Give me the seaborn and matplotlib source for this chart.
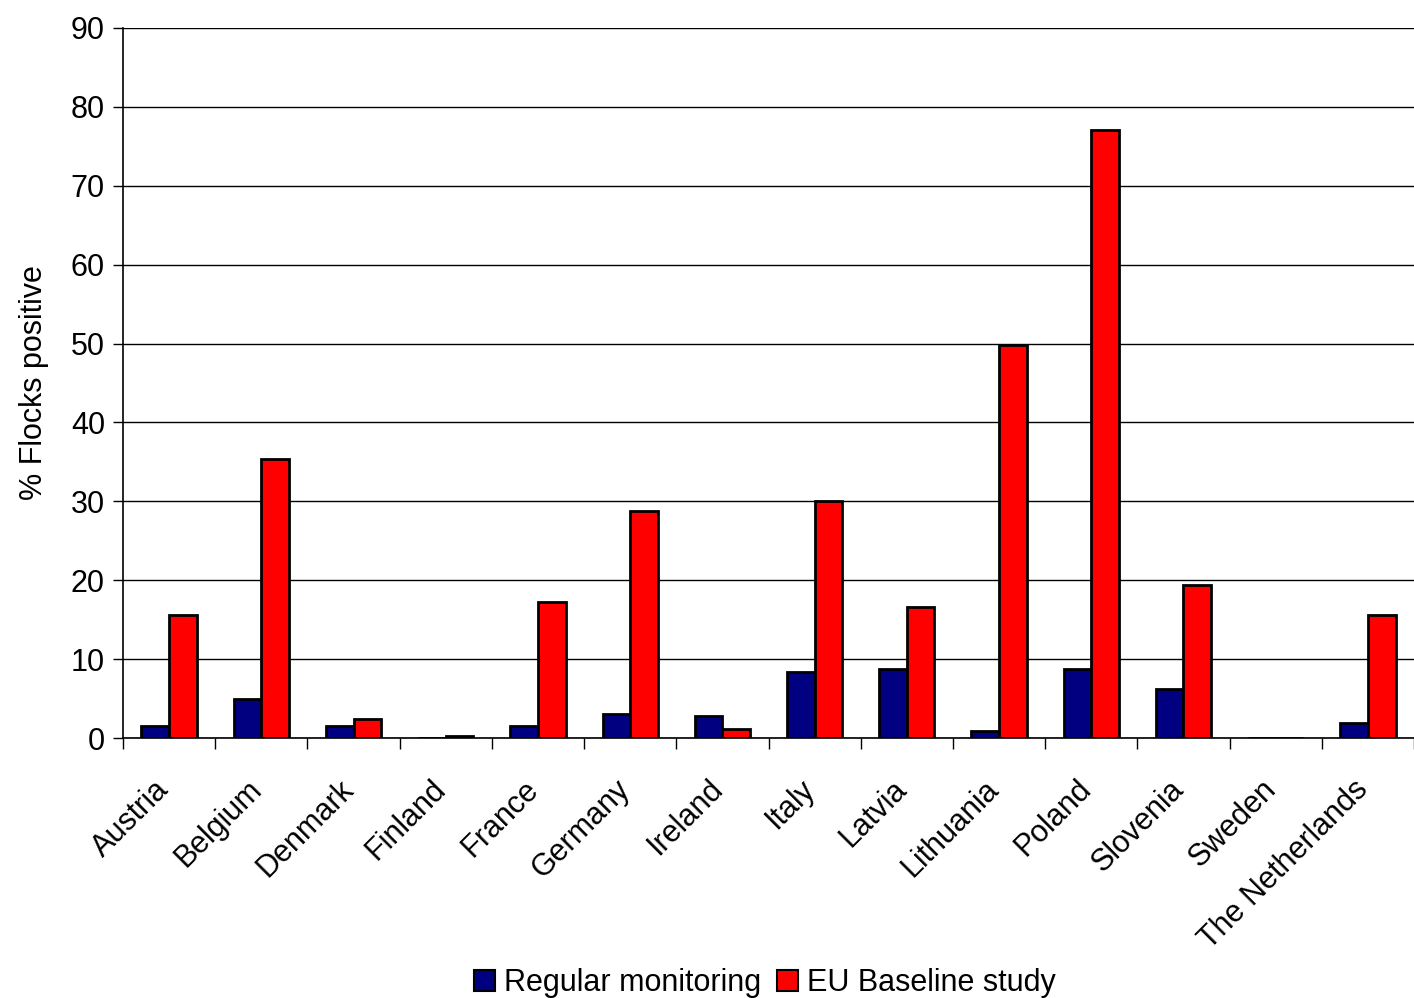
import matplotlib
matplotlib.use("Agg")
import matplotlib.pyplot as plt
import matplotlib.transforms as mtransforms
import seaborn as sns
import pandas as pd
import numpy as np
from matplotlib.patches import Patch

countries = ["Austria", "Belgium", "Denmark", "Finland", "France", "Germany", "Ireland",
             "Italy", "Latvia", "Lithuania", "Poland", "Slovenia", "Sweden", "The Netherlands"]
regular = [1.5, 4.9, 1.5, 0.0, 1.5, 3.0, 2.8, 8.4, 8.7, 0.9, 8.7, 6.2, 0.0, 1.9]
baseline = [15.6, 35.4, 2.4, 0.3, 17.2, 28.8, 1.1, 30.0, 16.6, 49.8, 77.1, 19.4, 0.0, 15.6]
series_names = ["Regular monitoring", "EU Baseline study"]
colors = ["#000080", "#FF0000"]

df = pd.DataFrame({
    "country": countries * 2,
    "series": [series_names[0]] * len(countries) + [series_names[1]] * len(countries),
    "value": regular + baseline,
})

sns.set_style("white")
plt.rcParams['font.family'] = ['Liberation Sans', 'DejaVu Sans']
plt.rcParams['text.color'] = 'black'
plt.rcParams['axes.labelcolor'] = 'black'
plt.rcParams['xtick.color'] = 'black'
plt.rcParams['ytick.color'] = 'black'

FS = 22

fig = plt.figure(figsize=(14.14, 9.98), dpi=100)
ax = fig.add_axes([0.087, 0.2605, 0.913, 0.7115])

sns.barplot(data=df, x="country", y="value", hue="series", palette=colors,
            width=0.6, edgecolor="black", linewidth=2.0, ax=ax, legend=False,
            saturation=1)

ax.set_ylim(0, 90)
ax.set_xlim(-0.5, len(countries) - 0.5)
ax.set_yticks(np.arange(0, 91, 10))
ax.yaxis.grid(True, color="black", linewidth=1)
ax.set_axisbelow(True)
for s in ["top", "right"]:
    ax.spines[s].set_visible(False)
for s in ["left", "bottom"]:
    ax.spines[s].set_color("black")
    ax.spines[s].set_linewidth(1.2)

ax.tick_params(axis="y", labelsize=FS, length=7, width=1, color="black", direction="out", left=True, pad=6)
ax.set_xticks(range(len(countries)))
ax.set_xticklabels(countries, rotation=45, ha="right", rotation_mode="anchor", fontsize=FS)
ax.tick_params(axis="x", which="major", length=0, pad=26)
ax.set_xticks(np.arange(-0.5, len(countries), 1), minor=True)
ax.tick_params(axis="x", which="minor", length=8, width=1, color="black", bottom=True, direction="out")

offset = mtransforms.ScaledTranslation(-0.15, 0.0, fig.dpi_scale_trans)
for lbl in ax.get_xticklabels():
    lbl.set_transform(lbl.get_transform() + offset)

ax.set_xlabel("")
ax.set_ylabel("% Flocks positive", fontsize=FS, labelpad=16)

handles = [Patch(facecolor=c, edgecolor="black", linewidth=1.5) for c in colors]
fig.legend(handles, series_names, loc="lower center", bbox_to_anchor=(0.541, -0.028), ncol=2,
           frameon=False, fontsize=FS, handlelength=0.7, handleheight=0.7,
           handletextpad=0.3, columnspacing=0.5)

fig.savefig("out.png", dpi=100, facecolor="white")
